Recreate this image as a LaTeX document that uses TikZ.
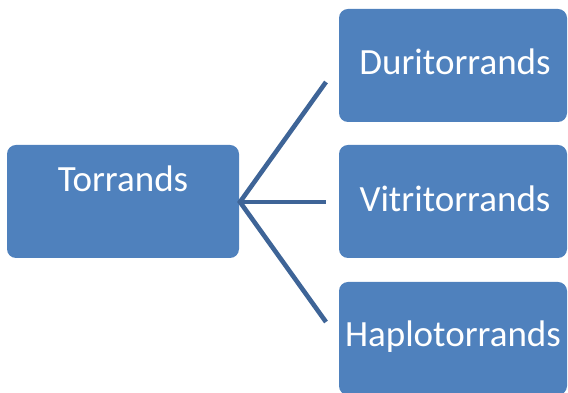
\documentclass[tikz,border=0pt]{standalone}
\usepackage{fontspec}
\setmainfont{Carlito}
\definecolor{boxblue}{HTML}{4F81BD}
\definecolor{lineblue}{HTML}{3E6497}
\begin{document}
\begin{tikzpicture}[x=1pt,y=1pt,
  box/.style={fill=boxblue,draw=none,rounded corners=9pt,minimum width=228pt,minimum height=113pt,inner sep=0pt},
  lbl/.style={text=white,font=\fontsize{37}{40}\selectfont,anchor=base,inner sep=0pt},
  conn/.style={draw=lineblue,line width=4.6pt}]
\useasboundingbox (0,0) rectangle (568,393);
\begin{scope}
\clip (0,0) rectangle (568,393);
\node[box,minimum width=232pt] (torr) at (123,191.5) {};
\node[box] (duri) at (453,327.5) {};
\node[box] (vitr) at (453,191.5) {};
\node[box] (hapl) at (453,54.5) {};
\end{scope}
\node[lbl] (torrt) at (123,201) {Torrands};
\node[lbl] (durit) at (455,318) {Duritorrands};
\node[lbl] (vitrt) at (455,181) {Vitritorrands};
\node[lbl] (haplt) at (453,46) {Haplotorrands};
\coordinate (hub) at (240,191);
\coordinate (e1) at (326,311);
\coordinate (e2) at (326,191);
\coordinate (e3) at (326,71);
\draw[conn] (e1) -- (hub) -- (e3);
\draw[conn] (hub) -- (e2);
\end{tikzpicture}
\end{document}
